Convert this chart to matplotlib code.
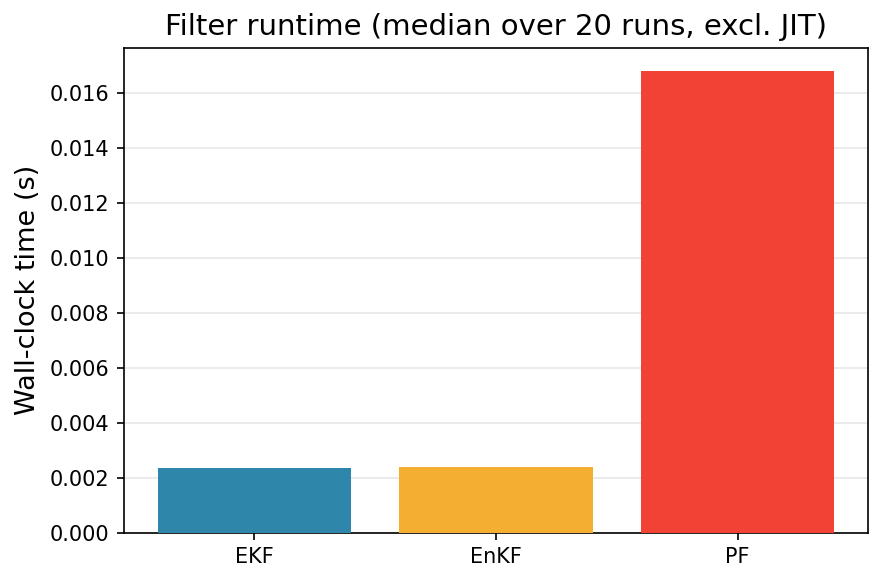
import matplotlib
matplotlib.use("Agg")
import matplotlib.pyplot as plt

filters = ["EKF", "EnKF", "PF"]
runtimes = [0.00237, 0.00240, 0.01678]
colors = ["#2E86AB", "#F4AE31", "#F24236"]

fig, ax = plt.subplots(figsize=(5.9, 3.887), dpi=150)
ax.bar(filters, runtimes, color=colors, width=0.8, zorder=3)
ax.grid(axis="y", alpha=0.3, zorder=0)
ax.set_ylabel("Wall-clock time (s)", fontsize=13)
ax.set_title("Filter runtime (median over 20 runs, excl. JIT)", fontsize=14)
ax.set_ylim(0, 0.01764)
fig.subplots_adjust(left=0.140, right=0.981, top=0.918, bottom=0.086)
fig.savefig("out.png", dpi=150)
